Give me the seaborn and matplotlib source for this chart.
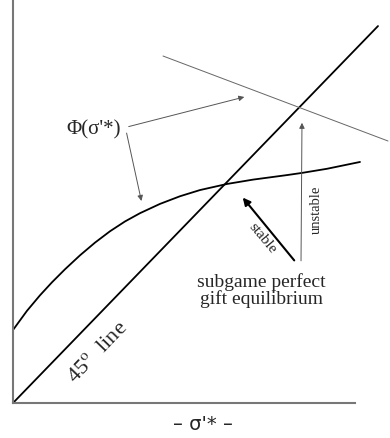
import numpy as np
import pandas as pd
import matplotlib
matplotlib.use("Agg")
import matplotlib.pyplot as plt
import seaborn as sns

# curve values (data units ~ pixels from the origin)
phi_x = [0, 14, 27, 39, 52, 67, 82, 97, 112, 127, 147, 167, 187, 214, 240, 274, 289, 314, 347]
phi_y = [70.7, 89.3, 104.3, 116.9, 129.5, 143.0, 155.3, 166.3, 175.8, 183.8,
         192.8, 200.2, 206.2, 212.1, 216.3, 220.7, 222.8, 226.8, 233.4]
diag_x = [0, 365]
diag_y = [0, 365]
upper_x = [150, 375]
upper_y = [336.0, 253.7]

sns.set_theme(style="white")
plt.rcParams["font.family"] = ["Liberation Serif", "DejaVu Serif"]
plt.rcParams["mathtext.fontset"] = "stix"

fig = plt.figure(figsize=(3.9, 4.39), dpi=100)
ax = fig.add_axes([13 / 390, 35 / 439, 377 / 390, 404 / 439])
ax.set_xlim(0, 377)
ax.set_ylim(0, 391.2)

sns.lineplot(x=phi_x, y=phi_y, ax=ax, color="black", lw=1.3, sort=False)
sns.lineplot(x=diag_x, y=diag_y, ax=ax, color="black", lw=1.3, sort=False)
sns.lineplot(x=upper_x, y=upper_y, ax=ax, color="#666666", lw=0.7, sort=False)
for l in ax.lines:
    l.set_clip_on(False)
    l.set_solid_joinstyle("round")

thin = dict(arrowstyle="-|>", color="#555555", lw=0.7, mutation_scale=8)
ax.annotate("", xy=(234, 297), xytext=(113, 267), arrowprops=thin)
ax.annotate("", xy=(129, 193), xytext=(113, 264), arrowprops=thin)
ax.text(81, 265, "Φ(σ'*)", ha="center", va="center", fontsize=15)
ax.annotate("", xy=(289, 274), xytext=(288, 135), arrowprops=thin)
ax.annotate("", xy=(228, 201), xytext=(283, 136),
            arrowprops=dict(arrowstyle="-|>", color="black", lw=1.5,
                            mutation_scale=11))
ax.text(249, 160, "stable", rotation=-50, ha="center", va="center", fontsize=11)
ax.text(303, 188, "unstable", rotation=90, ha="center", va="center", fontsize=10.5)
ax.text(248, 110, "subgame perfect\ngift equilibrium", ha="center", va="center",
        fontsize=14, linespacing=0.95)
ax.text(85, 50, r"45$^{\rm o}$  line", rotation=46, ha="center", va="center",
        fontsize=16)

ax.set_xticks([])
ax.set_yticks([])
for s in ["top", "right"]:
    ax.spines[s].set_visible(False)
for s in ["left", "bottom"]:
    ax.spines[s].set_color("#777777")
    ax.spines[s].set_linewidth(1.5)
ax.spines["bottom"].set_bounds(0, 342)

fig.text(203 / 390, 1 - 425 / 439, "– σ'* –", ha="center", va="center",
         fontsize=14, family=["DejaVu Sans"])

fig.savefig("out.png", dpi=100)
